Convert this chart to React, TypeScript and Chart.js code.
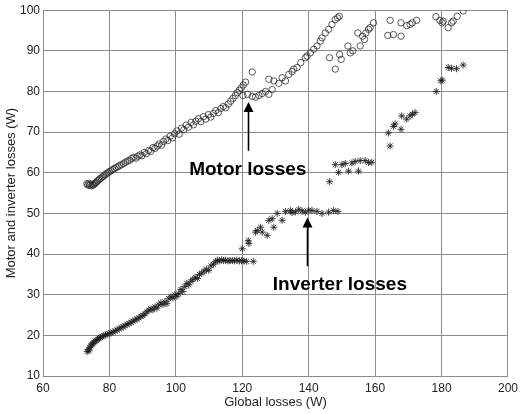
import React, { useEffect, useRef } from "react";
import { Chart, registerables } from "chart.js";

Chart.register(...registerables);

// Motor losses (open circles): [global losses W, motor losses W]
const motorX = [
  73.2, 73.5, 73.8, 74.0, 74.3, 74.6, 74.9, 75.2, 75.5, 75.8, 76.1, 76.4, 76.8, 77.1, 77.5, 77.9, 78.3, 78.7, 79.1, 79.6,
  80.0, 80.5, 81.0, 81.5, 82.0, 82.6, 83.1, 83.7, 84.3, 84.9, 85.5, 86.1, 86.7, 87.3, 88.0, 88.6, 89.2, 89.8, 90.5, 91.1,
  91.8, 92.4, 93.1, 93.7, 94.4, 95.0, 95.7, 96.3, 97.0, 97.6, 98.3, 99.0, 99.6, 100.3, 101.0, 101.7, 102.4, 103.1, 103.8, 104.6,
  105.3, 106.0, 106.8, 107.5, 108.3, 109.0, 109.8, 110.5, 111.3, 112.0, 112.8, 113.5, 114.3, 115.0, 115.8, 116.5, 117.2, 117.9, 118.5, 119.1,
  119.7, 120.3, 121.0, 123.0, 121.6, 120.2,
  123.0, 124.0, 125.0, 126.0, 127.0, 128.0, 129.0, 128.0, 129.5, 131.0, 132.0, 133.0, 134.0, 135.0, 135.5, 136.5, 137.6, 139.0, 139.5, 140.5,
  141.5, 142.5, 143.5, 144.0, 145.0, 146.0, 147.0, 148.0, 148.7, 149.2,
  146.3, 148.0, 149.3, 149.8, 151.8, 152.5, 153.3, 154.8, 155.5, 156.2, 156.8, 157.2, 158.0, 158.5, 159.5,
  164.5, 163.8, 165.5, 167.8, 167.8, 169.5, 170.5, 171.2, 172.5,
  178.3, 179.5, 180.5, 180.2, 182.0, 183.0, 183.5, 184.7, 186.5,
];
const motorY = [
  57.3, 57.0, 57.4, 56.9, 57.2, 56.8, 57.1, 57.0, 57.3, 57.5, 57.7, 58.0, 58.2, 58.5, 58.7, 59.0, 59.2, 59.5, 59.8, 60.0,
  60.3, 60.5, 60.8, 61.0, 61.3, 61.5, 61.8, 62.0, 62.3, 62.6, 62.9, 63.1, 63.5, 63.8, 63.6, 64.1, 64.4, 64.2, 65.0, 64.7,
  65.5, 65.3, 66.2, 66.0, 66.6, 67.1, 66.8, 67.7, 68.3, 67.9, 69.0, 68.6, 69.6, 70.3, 69.5, 71.0, 70.6, 71.7, 71.2, 72.4,
  71.8, 72.7, 73.3, 72.6, 73.8, 73.2, 74.3, 73.7, 74.6, 75.3, 74.8, 75.8, 76.3, 76.0, 76.9, 77.6, 78.3, 79.0, 79.7, 80.3,
  80.9, 81.6, 82.3, 84.8, 79.3, 79.0,
  78.8, 78.6, 79.0, 79.5, 80.0, 79.3, 80.5, 83.0, 82.6, 82.0, 83.4, 82.6, 84.2, 84.9, 85.5, 85.9, 87.1, 88.3, 88.7, 89.5,
  90.4, 91.2, 92.4, 93.2, 94.4, 95.3, 96.5, 97.7, 98.1, 98.5,
  88.3, 85.5, 89.1, 87.9, 91.2, 89.5, 90.0, 94.4, 91.2, 93.6, 92.8, 94.4, 95.3, 95.7, 96.9,
  97.5, 93.8, 94.0, 93.6, 96.9, 96.2, 96.5, 96.9, 97.5,
  98.4, 97.5, 97.3, 96.9, 95.7, 96.9, 97.3, 98.5, 99.8,
];

// Inverter losses (asterisks): [global losses W, inverter losses W]
const inverterX = [
  73.3, 73.6, 73.9, 74.1, 74.4, 74.7, 75.0, 75.3, 75.7, 76.1, 76.5, 76.9, 77.3, 77.8, 78.3, 78.8, 79.3, 79.9, 80.5, 81.1,
  81.7, 82.3, 82.9, 83.5, 84.1, 84.7, 85.3, 85.9, 86.5, 87.1, 87.7, 88.3, 88.9, 89.5, 90.1, 90.7, 91.3, 91.9, 92.5, 93.1,
  93.7, 94.3, 94.9, 95.5, 96.1, 96.7, 97.3, 97.9, 98.5, 99.1, 99.7, 100.3, 100.9, 101.5, 102.1, 102.7, 103.3, 103.9, 104.5, 105.1,
  105.8, 106.5, 107.1, 107.8, 108.5, 109.2, 109.9, 110.6, 111.3, 111.9, 112.5, 113.1, 113.8, 114.4, 115.0, 115.7, 116.3, 117.0, 117.7, 118.4,
  119.1, 119.8, 120.5, 121.2, 123.3,
  120.0, 121.8, 122.0, 124.0, 124.5, 125.5, 126.0, 127.5, 128.0, 129.0, 129.5, 130.5, 132.0, 133.0, 134.5, 135.0, 136.0, 137.0, 138.0, 139.0,
  140.0, 141.0, 142.5, 144.0, 146.0, 147.5, 148.8,
  146.3, 148.0, 149.0, 150.0, 151.0, 152.0, 153.0, 154.0, 155.0, 155.5, 157.0, 158.0, 159.0,
  164.0, 164.5, 165.5, 166.0, 167.8, 168.0, 169.5, 170.5, 171.2, 172.0,
  178.4, 179.8, 180.2, 182.0, 183.0, 184.5, 186.5,
];
const inverterY = [
  16.0, 16.5, 16.2, 17.0, 17.4, 17.8, 18.0, 18.3, 18.6, 18.8, 19.0, 19.3, 19.5, 19.7, 19.9, 20.1, 20.3, 20.4, 20.6, 20.8,
  21.1, 21.3, 21.6, 21.9, 22.1, 22.4, 22.7, 22.9, 23.2, 23.5, 23.8, 24.0, 24.3, 24.7, 24.9, 25.3, 25.8, 26.2, 26.5, 26.3,
  27.0, 26.7, 27.5, 28.0, 27.6, 28.3, 27.8, 29.0, 29.5, 29.2, 30.0, 29.6, 30.3, 31.3, 30.8, 32.0, 32.8, 32.4, 33.3, 33.7,
  34.3, 34.0, 35.0, 35.3, 35.8, 36.3, 36.0, 37.1, 37.5, 38.1, 38.5, 38.3, 38.6, 38.4, 38.5, 38.3, 38.4, 38.4, 38.3, 38.5,
  38.3, 38.4, 38.3, 38.2, 38.2,
  41.3, 43.3, 42.6, 45.4, 45.8, 46.6, 45.4, 44.6, 48.3, 48.7, 46.6, 50.0, 48.3, 50.5, 50.7, 50.2, 50.4, 51.0, 50.6, 50.3,
  50.8, 50.7, 50.5, 50.0, 50.3, 50.7, 50.5,
  57.8, 62.0, 60.1, 62.0, 62.3, 60.4, 62.4, 62.8, 60.4, 63.0, 63.0, 62.5, 62.6,
  69.8, 66.6, 71.4, 72.0, 70.7, 74.0, 73.2, 74.0, 74.4, 74.8,
  80.0, 82.6, 82.8, 85.9, 85.7, 85.6, 86.5,
];

const xTicks = [60, 80, 100, 120, 140, 160, 180, 200];
const yTicks = [10, 20, 30, 40, 50, 60, 70, 80, 90, 100];

// Annotations in data units
const labelTexts = ["Motor losses", "Inverter losses"];
const labelX = [104.0, 129.2];
const labelY = [59.5, 31.1];
const arrowX = [121.7, 139.5];
const arrowTipY = [77.4, 49.0];
const arrowTailY = [65.4, 37.0];

const FONT = "'Liberation Sans', Arial, Helvetica, sans-serif";

const annotationPlugin = {
  id: "annotations",
  afterDatasetsDraw(chart: any) {
    const { ctx, scales } = chart;
    const xs = scales.x;
    const ys = scales.y;
    ctx.save();
    for (let i = 0; i < labelTexts.length; i++) {
      const ax = Math.round(xs.getPixelForValue(arrowX[i])) + 0.5;
      const tip = ys.getPixelForValue(arrowTipY[i]);
      const tail = ys.getPixelForValue(arrowTailY[i]);
      ctx.strokeStyle = "#000";
      ctx.fillStyle = "#000";
      ctx.lineWidth = 1.6;
      ctx.beginPath();
      ctx.moveTo(ax, tail);
      ctx.lineTo(ax, tip + 8);
      ctx.stroke();
      ctx.beginPath();
      ctx.moveTo(ax, tip);
      ctx.lineTo(ax - 5, tip + 10);
      ctx.lineTo(ax + 5, tip + 10);
      ctx.closePath();
      ctx.fill();

      ctx.font = `bold 19px ${FONT}`;
      ctx.textBaseline = "alphabetic";
      ctx.textAlign = "left";
      ctx.fillText(labelTexts[i], xs.getPixelForValue(labelX[i]), ys.getPixelForValue(labelY[i]));
    }
    ctx.restore();
  },
};

export default function App() {
  const ref = useRef<HTMLCanvasElement | null>(null);

  useEffect(() => {
    if (!ref.current) return;
    const chart = new Chart(ref.current, {
      type: "scatter",
      data: {
        datasets: [
          {
            label: "Motor losses",
            data: motorX.map((x, i) => ({ x, y: motorY[i] })),
            pointStyle: "circle",
            pointRadius: 3.2,
            pointBorderWidth: 0.9,
            borderColor: "rgba(40,40,40,0.85)",
            backgroundColor: "rgba(0,0,0,0)",
          },
          {
            label: "Inverter losses",
            data: inverterX.map((x, i) => ({ x, y: inverterY[i] })),
            pointStyle: "star",
            pointRadius: 3.5,
            pointBorderWidth: 1,
            borderColor: "rgba(30,30,30,0.85)",
            backgroundColor: "rgba(30,30,30,0.85)",
          },
        ],
      },
      options: {
        animation: false,
        responsive: false,
        layout: { padding: { top: 9, right: 11, bottom: 0, left: 0 } },
        plugins: {
          legend: { display: false },
          tooltip: { enabled: false },
        },
        scales: {
          x: {
            type: "linear",
            min: xTicks[0],
            max: xTicks[xTicks.length - 1],
            afterBuildTicks: (s: any) => {
              s.ticks = xTicks.map((v) => ({ value: v }));
            },
            afterFit: (s: any) => {
              s.height = 38;
            },
            grid: { color: "#8c8c8c", lineWidth: 1, drawTicks: false },
            border: { color: "#8c8c8c" },
            ticks: { color: "#222", padding: 5, font: { family: FONT, size: 12 } },
            title: {
              display: true,
              text: "Global losses (W)",
              color: "#222",
              font: { family: FONT, size: 13 },
              padding: { top: 0, bottom: 4 },
            },
          },
          y: {
            type: "linear",
            min: yTicks[0],
            max: yTicks[yTicks.length - 1],
            afterBuildTicks: (s: any) => {
              s.ticks = yTicks.map((v) => ({ value: v }));
            },
            afterFit: (s: any) => {
              s.width = 43;
            },
            grid: { color: "#8c8c8c", lineWidth: 1, drawTicks: false },
            border: { color: "#8c8c8c" },
            ticks: { color: "#222", padding: 3, font: { family: FONT, size: 12 } },
            title: {
              display: true,
              text: "Motor and inverter losses (W)",
              color: "#222",
              font: { family: FONT, size: 13 },
              padding: { top: 4, bottom: 0 },
            },
          },
        },
      },
      plugins: [annotationPlugin],
    });
    return () => chart.destroy();
  }, []);

  return (
    <div style={{ position: "fixed", left: 0, top: 0, width: 523, height: 414, background: "#fff" }}>
      <canvas ref={ref} width={523} height={414} style={{ display: "block" }} />
    </div>
  );
}
